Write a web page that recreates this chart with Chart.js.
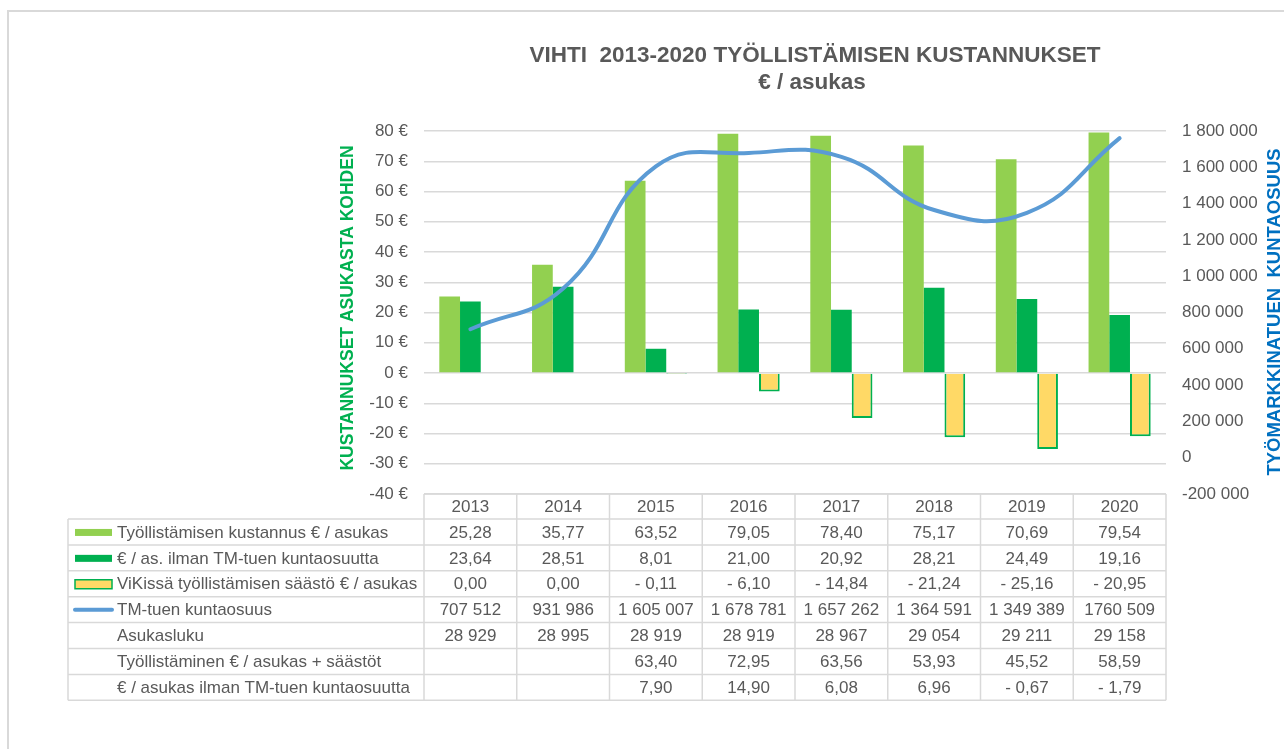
<!DOCTYPE html>
<html>
<head>
<meta charset="utf-8">
<script src="https://cdn.jsdelivr.net/npm/chart.js@4"></script>
<style>
  html, body { margin: 0; padding: 0; background: #fff; }
  #frame { position: absolute; left: 7px; top: 10px; width: 1300px; height: 800px; border-left: 2px solid #d9d9d9; border-top: 2px solid #d9d9d9; }
  #wrap { position: absolute; left: 0; top: 0; width: 1284px; height: 749px; }
</style>
</head>
<body>
<div id="frame"></div>
<div id="wrap"><canvas id="c" width="1284" height="749"></canvas></div>
<script>
const years = ['2013', '2014', '2015', '2016', '2017', '2018', '2019', '2020'];
const kustannus = [25.28, 35.77, 63.52, 79.05, 78.40, 75.17, 70.69, 79.54];
const ilmanTm = [23.64, 28.51, 8.01, 21.00, 20.92, 28.21, 24.49, 19.16];
const saasto = [0, 0, -0.11, -6.10, -14.84, -21.24, -25.16, -20.95];
const tmOsuus = [707512, 931986, 1605007, 1678781, 1657262, 1364591, 1349389, 1760509];
const tmOsuusText = ['707 512', '931 986', '1 605 007', '1 678 781', '1 657 262', '1 364 591', '1 349 389', '1760 509'];
const asukasluku = [28929, 28995, 28919, 28919, 28967, 29054, 29211, 29158];
const tyollSaastot = [null, null, 63.40, 72.95, 63.56, 53.93, 45.52, 58.59];
const asIlmanTm = [null, null, 7.90, 14.90, 6.08, 6.96, -0.67, -1.79];

const FONT = '"Liberation Sans", Arial, sans-serif';
const GRAY = '#595959';

function fmt2(v) {
    if (v === null) return '';
    const s = Math.abs(v).toFixed(2).replace('.', ',');
    return v < 0 ? '- ' + s : s;
}
function fmtInt(v) {
    const s = String(Math.abs(Math.round(v))).replace(/\B(?=(\d{3})+(?!\d))/g, ' ');
    return v < 0 ? '-' + s : s;
}

const tableRows = [
    { label: 'Työllistämisen kustannus € / asukas', key: 'bar', color: '#92D050', cells: kustannus.map(fmt2) },
    { label: '€ / as. ilman TM-tuen kuntaosuutta', key: 'bar', color: '#00B050', cells: ilmanTm.map(fmt2) },
    { label: 'ViKissä työllistämisen säästö € / asukas', key: 'box', color: '#FFD966', cells: saasto.map(fmt2) },
    { label: 'TM-tuen kuntaosuus', key: 'line', color: '#5B9BD5', cells: tmOsuusText },
    { label: 'Asukasluku', key: null, cells: asukasluku.map(fmtInt) },
    { label: 'Työllistäminen € / asukas + säästöt', key: null, cells: tyollSaastot.map(fmt2) },
    { label: '€ / asukas ilman TM-tuen kuntaosuutta', key: null, cells: asIlmanTm.map(fmt2) }
];

// title, axis titles and the data table under the plot
const extras = {
    id: 'extras',
    afterDraw(chart) {
        const { ctx, chartArea: a, scales: { x } } = chart;
        ctx.save();
        ctx.fillStyle = GRAY;
        ctx.font = 'bold 22.5px ' + FONT;
        ctx.textAlign = 'center';
        ctx.textBaseline = 'middle';
        ctx.fillText('VIHTI  2013-2020 TYÖLLISTÄMISEN KUSTANNUKSET', 815, 56);
        ctx.fillText('€ / asukas', 812, 83);

        ctx.font = 'bold 17.5px ' + FONT;
        ctx.save();
        ctx.translate(348, 308);
        ctx.rotate(-Math.PI / 2);
        ctx.fillStyle = '#00B050';
        ctx.fillText('KUSTANNUKSET ASUKASTA KOHDEN', 0, 0);
        ctx.restore();
        ctx.font = 'bold 18.5px ' + FONT;
        ctx.save();
        ctx.translate(1275, 312);
        ctx.rotate(-Math.PI / 2);
        ctx.fillStyle = '#0070C0';
        ctx.fillText('TYÖMARKKINATUEN  KUNTAOSUUS', 0, 0);
        ctx.restore();

        // data table
        const band = (a.right - a.left) / years.length;
        const top = a.bottom;
        const headH = 25;
        const rowH = 25.9;
        const tLeft = 68;
        const bottom = top + headH + rowH * tableRows.length;
        ctx.strokeStyle = '#d9d9d9';
        ctx.lineWidth = 1.5;
        ctx.beginPath();
        ctx.moveTo(a.left, top); ctx.lineTo(a.right, top);
        for (let r = 0; r <= tableRows.length; r++) {
            const y = top + headH + rowH * r;
            ctx.moveTo(tLeft, y); ctx.lineTo(a.right, y);
        }
        for (let i = 0; i <= years.length; i++) {
            const xx = a.left + band * i;
            ctx.moveTo(xx, top); ctx.lineTo(xx, bottom);
        }
        ctx.moveTo(tLeft, top + headH); ctx.lineTo(tLeft, bottom);
        ctx.stroke();

        ctx.font = '17px ' + FONT;
        ctx.fillStyle = GRAY;
        ctx.textAlign = 'center';
        years.forEach((yr, i) => ctx.fillText(yr, x.getPixelForValue(i), top + headH / 2 + 1));
        tableRows.forEach((row, r) => {
            const cy = top + headH + rowH * r + rowH / 2 + 1;
            ctx.textAlign = 'center';
            ctx.fillStyle = GRAY;
            row.cells.forEach((t, i) => ctx.fillText(t, x.getPixelForValue(i), cy));
            ctx.textAlign = 'left';
            ctx.fillText(row.label, 117, cy);
            if (row.key === 'bar') {
                ctx.fillStyle = row.color;
                ctx.fillRect(75, cy - 4, 37, 7);
            } else if (row.key === 'box') {
                ctx.fillStyle = row.color;
                ctx.fillRect(75, cy - 5, 37, 9);
                ctx.strokeStyle = '#00B050';
                ctx.lineWidth = 1.5;
                ctx.strokeRect(75, cy - 5, 37, 9);
            } else if (row.key === 'line') {
                ctx.strokeStyle = row.color;
                ctx.lineWidth = 4;
                ctx.lineCap = 'round';
                ctx.beginPath();
                ctx.moveTo(75, cy - 1); ctx.lineTo(112, cy - 1);
                ctx.stroke();
            }
        });
        ctx.restore();
    }
};

const chart = new Chart(document.getElementById('c'), {
    data: {
        labels: years,
        datasets: [
            { type: 'line', label: 'TM-tuen kuntaosuus', data: tmOsuus, yAxisID: 'y2', order: 0,
              borderColor: '#5B9BD5', borderWidth: 4, tension: 0.45, pointRadius: 0, borderCapStyle: 'round' },
            { type: 'bar', label: 'Työllistämisen kustannus € / asukas', data: kustannus, yAxisID: 'y', order: 1,
              backgroundColor: '#92D050' },
            { type: 'bar', label: '€ / as. ilman TM-tuen kuntaosuutta', data: ilmanTm, yAxisID: 'y', order: 1,
              backgroundColor: '#00B050' },
            { type: 'bar', label: 'ViKissä työllistämisen säästö € / asukas', data: saasto, yAxisID: 'y', order: 1,
              backgroundColor: '#FFD966', borderColor: '#00B050', borderWidth: 2 }
        ]
    },
    options: {
        responsive: false,
        animation: false,
        layout: { padding: { left: 0, right: 0, top: 131, bottom: 255 } },
        datasets: { bar: { categoryPercentage: 0.67, barPercentage: 1.0 } },
        plugins: { legend: { display: false }, tooltip: { enabled: false } },
        scales: {
            x: { display: false, offset: true },
            y: {
                position: 'left', min: -40, max: 80,
                afterFit: (s) => { s.width = 424; },
                ticks: { stepSize: 10, padding: 16, color: GRAY, font: { family: FONT, size: 17 },
                         callback: (v) => v + ' €' },
                grid: { color: '#d9d9d9', lineWidth: 1.5, drawTicks: false },
                border: { display: false }
            },
            y2: {
                position: 'right', min: -200000, max: 1800000,
                afterFit: (s) => { s.width = 118; },
                ticks: { stepSize: 200000, padding: 16, color: GRAY, font: { family: FONT, size: 17 },
                         callback: (v) => fmtInt(v) },
                grid: { display: false, drawTicks: false },
                border: { display: false }
            }
        }
    },
    plugins: [extras]
});
</script>
</body>
</html>
